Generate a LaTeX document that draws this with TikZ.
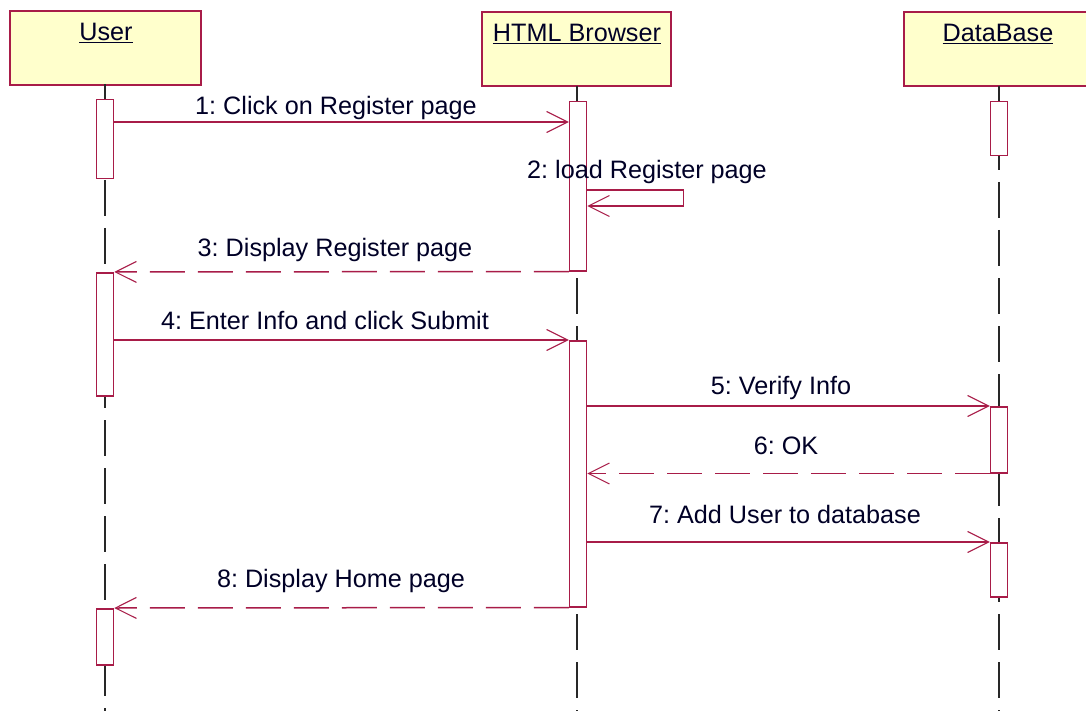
\documentclass[tikz,border=0pt]{standalone}
\usepackage{fontspec}
\setmainfont{Liberation Sans}
\usetikzlibrary{arrows.meta,positioning}

\definecolor{umlred}{RGB}{168,28,72}
\definecolor{umlfill}{RGB}{255,255,204}
\definecolor{lifegray}{RGB}{40,40,40}
\frenchspacing

\begin{document}
\begin{tikzpicture}[x=1pt, y=-1pt,
    obj/.style={draw=umlred, line width=1.6pt, fill=umlfill, minimum height=74pt, anchor=north west,
      inner sep=0pt},
    act/.style={draw=umlred, line width=1.5pt, fill=white, minimum width=17pt, anchor=north, inner sep=0pt},
    lifeline/.style={draw=lifegray, line width=1.8pt, dash pattern=on 36pt off 12pt},
    msg/.style={draw=umlred, line width=1.5pt, -{Straight Barb[length=21pt, width=21pt, line width=1.1pt]}},
    reply/.style={msg, dash pattern=on 35pt off 13pt},
    lbl/.style={font=\fontsize{25.2}{30}\selectfont, text=black!85!blue, inner sep=0pt}
  ]
\useasboundingbox (0,0) rectangle (1086,711);

% Objects
\node[obj, minimum width=191pt] (user) at (9,10) {};
\node[lbl] at (106,33) {\underline{User}};
\node[obj, minimum width=189pt] (browser) at (481,11) {};
\node[lbl] at (577,34) {\underline{HTML Browser}};
\node[obj, minimum width=200pt] (db) at (903,11) {};
\node[lbl] at (998,34) {\underline{DataBase}};

% Lifelines
\draw[lifeline] (105,84) -- (105,711);
\draw[lifeline] (577,86) -- (577,711);
\draw[lifeline] (999,86) -- (999,711);

% Activations
\node[act, minimum height=79pt] (ua1) at (105,99) {};
\node[act, minimum height=123pt] (ua2) at (105,272) {};
\node[act, minimum height=56pt] (ua3) at (105,608) {};
\node[act, minimum height=169pt] (ba1) at (578,101) {};
\node[act, minimum height=266pt] (ba2) at (578,340) {};
\node[act, minimum height=54pt] (da1) at (999,101) {};
\node[act, minimum height=66pt] (da2) at (999,406) {};
\node[act, minimum height=54pt] (da3) at (999,542) {};

% Messages
\draw[msg] (ua1.east |- 0,122) -- (ba1.west |- 0,122);
\node[lbl] at (336,108) {1: Click on Register page};

\draw[msg] ([yshift=-89pt]ba1.north east) -- ++(96,0) -- ++(0,16) -- ([yshift=-105pt]ba1.north east);
\node[lbl] at (647,172) {2: load Register page};

\draw[reply] (ba1.south west) -- (ua2.north east);
\node[lbl] at (335,250) {3: Display Register page};

\draw[msg] (ua2.east |- ba2.north) -- (ba2.north west);
\node[lbl] at (325,320) {4: Enter Info and click Submit};

\draw[msg] (ba2.east |- da2.north) -- (da2.north west);
\node[lbl] at (781,388) {5: Verify Info};

\draw[reply] (da2.south west) -- (ba2.east |- da2.south);
\node[lbl] at (786,446) {6: OK};

\draw[msg] (ba2.east |- da3.north) -- (da3.north west);
\node[lbl] at (785,514) {7: Add User to database};

\draw[reply] (ba2.south west) -- (ua3.north east);
\node[lbl] at (341,581) {8: Display Home page};

\end{tikzpicture}
\end{document}
